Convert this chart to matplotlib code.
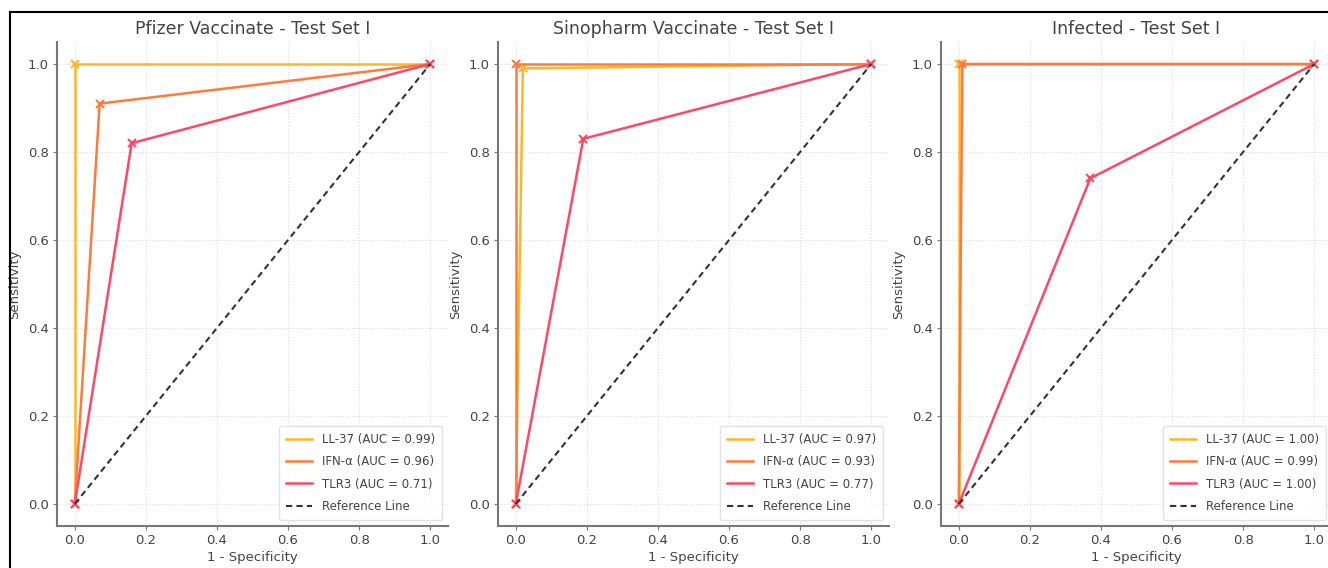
import matplotlib
matplotlib.use("Agg")
import matplotlib.pyplot as plt
from matplotlib.lines import Line2D

plt.rcParams['font.family'] = ['DejaVu Sans']

titles = ["Pfizer Vaccinate - Test Set I",
          "Sinopharm Vaccinate - Test Set I",
          "Infected - Test Set I"]
markers_names = ["LL-37", "IFN-\u03b1", "TLR3"]

# ROC points (1 - specificity, sensitivity) per panel, per marker
fpr = [
    [[0, 0.00, 1], [0, 0.07, 1], [0, 0.16, 1]],
    [[0, 0.02, 1], [0, 0.00, 1], [0, 0.19, 1]],
    [[0, 0.00, 1], [0, 0.01, 1], [0, 0.37, 1]],
]
tpr = [
    [[0, 1.00, 1], [0, 0.91, 1], [0, 0.82, 1]],
    [[0, 0.99, 1], [0, 1.00, 1], [0, 0.83, 1]],
    [[0, 1.00, 1], [0, 1.00, 1], [0, 0.74, 1]],
]
aucs = [
    [0.99, 0.96, 0.71],
    [0.97, 0.93, 0.77],
    [1.00, 0.99, 1.00],
]

colors = ['#FFB627', '#FF7A3D', '#FF4868']
lefts = [57, 498, 941]

fig = plt.figure(figsize=(13.28, 5.68), dpi=100)
W, H = 1328, 568

for p in range(3):
    ax = fig.add_axes([lefts[p] / W, (H - 526) / H, 391 / W, 484 / H])
    for m in range(3):
        ax.plot(fpr[p][m], tpr[p][m], color=colors[m], linewidth=1.8,
                label=f"{markers_names[m]} (AUC = {aucs[p][m]:.2f})")
        ax.plot(fpr[p][m], tpr[p][m], color=colors[m], linestyle='none',
                marker='x', markersize=6, markeredgewidth=1.5)
    ax.plot([0, 1], [0, 1], color='#333333', linestyle=(0, (3, 2)), linewidth=1.5,
            label='Reference Line')
    ax.set_xlim(-0.05, 1.05)
    ax.set_ylim(-0.05, 1.05)
    ax.set_xticks([0, 0.2, 0.4, 0.6, 0.8, 1.0])
    ax.set_yticks([0, 0.2, 0.4, 0.6, 0.8, 1.0])
    ax.grid(True, color='#dddddd', linewidth=0.8, linestyle=':')
    ax.set_axisbelow(True)
    for s in ['top', 'right']:
        ax.spines[s].set_visible(False)
    for s in ['left', 'bottom']:
        ax.spines[s].set_color('#777777')
        ax.spines[s].set_linewidth(1.5)
    ax.tick_params(colors='#777777', labelcolor='#444444', labelsize=9.5,
                   length=3, pad=3)
    ax.set_title(titles[p], fontsize=12.5, color='#444444', pad=6)
    ax.set_xlabel('1 - Specificity', fontsize=9.5, color='#444444', labelpad=3)
    ax.set_ylabel('Sensitivity', fontsize=9.5, color='#444444', labelpad=5)
    leg = ax.legend(loc='lower right', fontsize=8.5, frameon=True,
                    handlelength=2.2, borderpad=0.6, labelspacing=0.8)
    leg.get_frame().set_edgecolor('#dddddd')
    for t in leg.get_texts():
        t.set_color('#444444')

# frame border at top and left
fig.add_artist(Line2D([10 / W, 1], [(H - 12) / H, (H - 12) / H], color='black',
                      linewidth=1.5, transform=fig.transFigure))
fig.add_artist(Line2D([10 / W, 10 / W], [0, (H - 12) / H], color='black',
                      linewidth=1.5, transform=fig.transFigure))

fig.savefig('out.png', dpi=100, facecolor='white')
